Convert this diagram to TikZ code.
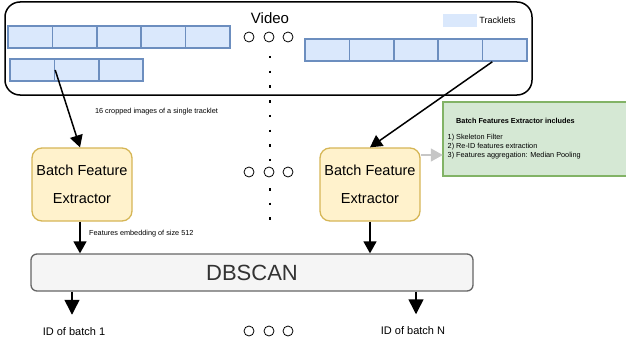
\documentclass[tikz,border=0pt]{standalone}
\usepackage{fontspec}
\setmainfont{Liberation Sans}
\usepackage{xcolor}
\usetikzlibrary{positioning,arrows.meta}
\definecolor{cellfill}{HTML}{DAE8FC}
\definecolor{celldraw}{HTML}{6C8EBF}
\definecolor{bfefill}{HTML}{FFF2CC}
\definecolor{bfedraw}{HTML}{D6B656}
\definecolor{notefill}{HTML}{D5E8D4}
\definecolor{notedraw}{HTML}{82B366}
\definecolor{dbfill}{HTML}{F5F5F5}
\definecolor{dbdraw}{HTML}{666666}
\definecolor{dbtext}{HTML}{333333}
\tikzset{
  cell/.style={draw=celldraw, fill=cellfill, line width=1.6pt, minimum width=44.4pt, minimum height=22pt, inner sep=0pt},
  bfe/.style={draw=bfedraw, fill=bfefill, line width=1.3pt, rounded corners=10pt, minimum width=100pt, minimum height=73pt, align=center, font=\fontsize{14.5}{27.5}\selectfont},
  ring/.style={circle, draw, line width=0.8pt, minimum size=10pt, inner sep=0pt},
  small/.style={font=\fontsize{7.3}{9}\selectfont, inner sep=0pt},
  idtext/.style={font=\fontsize{11}{13}\selectfont, inner sep=0pt},
  arr/.style={line width=1.5pt, -{Triangle[length=12pt,width=13pt]}},
  arrb/.style={line width=1.5pt, -{Triangle[length=15pt,width=15pt]}},
}

\begin{document}
\begin{tikzpicture}[x=1pt,y=-1pt]
\useasboundingbox (0,0) rectangle (626,345);
\draw [line width=1.5pt, rounded corners=15pt] (5,2) rectangle (532,95);
\node (video) at (270,18.5) {\fontsize{15}{17}\selectfont Video};
\foreach \i in {1,...,5} \node[cell] (a\i) at (8+44.4*\i-22.2,37) {};
\foreach \i in {1,...,3} \node[cell] (b\i) at (10+44.4*\i-22.2,70) {};
\foreach \i in {1,...,5} \node[cell] (c\i) at (305+44.4*\i-22.2,50) {};
\node[fill=cellfill, minimum width=34pt, minimum height=13pt, inner sep=0pt] (key) at (460,20.5) {};
\node[font=\fontsize{9}{11}\selectfont, inner sep=0pt, right=2pt of key] (keytext) {Tracklets};
\foreach \x in {249,269,288} {
  \node[ring] (top\x) at (\x,37) {};
  \node[ring] (mid\x) at (\x,172) {};
  \node[ring] (bot\x) at (\x,331) {};
}
\draw [line width=2.5pt, dash pattern=on 2.5pt off 12.2pt] (270,56) -- (270,162);
\draw [line width=2.5pt, dash pattern=on 2.5pt off 12.2pt] (270,188) -- (270,221);
\node[bfe] (bfe1) at (82,184.5) {Batch Feature\\Extractor};
\node[bfe] (bfe2) at (370,184.5) {Batch Feature\\Extractor};
\node[draw=dbdraw, fill=dbfill, line width=1.3pt, rounded corners=6pt, minimum width=442pt, minimum height=37pt, text=dbtext, font=\fontsize{22}{26}\selectfont] (db) at (252,272.5) {DBSCAN};
% the note runs up to the right edge, so only three sides are stroked
\node[fill=notefill, minimum width=183pt, minimum height=74pt, inner sep=0pt] (note) at (534.5,139) {};
\draw [notedraw, line width=1.5pt] (note.north east) -- (note.north west) -- (note.south west) -- (note.south east);
\node[small, font=\fontsize{7.3}{9}\selectfont\bfseries, anchor=west] (notetitle) at (456,121) {Batch Features Extractor includes};
\node[small, align=left, anchor=west] (steps) at (447.5,146.2) {1) Skeleton Filter\\2) Re-ID features extraction\\3) Features aggregation: Median Pooling};
\node[small] (croplabel) at (156.5,111.7) {16 cropped images of a single tracklet};
\node[small, anchor=west] (emblabel) at (89,234) {Features embedding of size 512};
\node[idtext] (id1) at (74,331.5) {ID of batch 1};
\node[idtext] (idn) at (413,331) {ID of batch N};
\draw [arr] (b1.east) -- ([xshift=-2pt]bfe1.north);
\draw [arr] ([xshift=10.5pt]c5.south west) -- (bfe2.north);
\draw [arr] ([xshift=-2pt]bfe1.south) -- ([xshift=-2pt]bfe1.south |- db.north);
\draw [arr] (bfe2.south) -- (bfe2.south |- db.north);
\draw [line width=1.5pt, draw=gray!45, -{Triangle[length=12pt,width=13pt]}] ([yshift=29.5pt]bfe2.east) -- ([yshift=29.5pt]bfe2.east -| note.west);
\draw [arrb, shorten >=12.5pt] ([xshift=-2pt]id1.north |- db.south) -- ([xshift=-2pt]id1.north);
\draw [arrb, shorten >=12.5pt] ([xshift=3pt]idn.north |- db.south) -- ([xshift=3pt]idn.north);
\end{tikzpicture}
\end{document}
